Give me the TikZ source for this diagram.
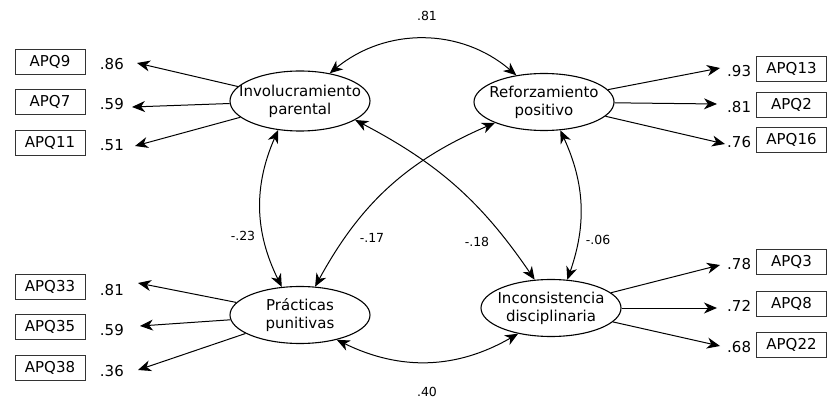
\documentclass[tikz,border=0pt]{standalone}
\usepackage{fontspec}
\setmainfont{DejaVu Sans}
\usetikzlibrary{arrows.meta,shapes.geometric}
\begin{document}
\begin{tikzpicture}[x=1pt,y=-1pt,font=\fontsize{15}{18}\selectfont,
    latent/.style={shape=ellipse,draw=black,line width=1.1pt,minimum width=140pt,minimum height=57pt,inner sep=0pt,inner xsep=-12pt,align=center},
    indic/.style={shape=rectangle,draw=black!80,line width=0.9pt,minimum width=70pt,minimum height=25pt,inner sep=0pt},
    load/.style={inner sep=0pt},
    coef/.style={inner sep=0pt,font=\fontsize{12.5}{14}\selectfont},
    loadarr/.style={draw=black,line width=1pt,-{Stealth[length=13pt,width=11pt,inset=4pt]}},
    cov/.style={draw=black,line width=1pt,{Stealth[length=13pt,width=11pt,inset=4pt]}-{Stealth[length=13pt,width=11pt,inset=4pt]}}]
    \useasboundingbox (0,0) rectangle (827,403);

    \node[latent,minimum height=60pt] (inv) at (300,101){Involucramiento\\parental};
    \node[latent] (ref) at (544,102){Reforzamiento\\positivo};
    \node[latent] (pun) at (300,315){Prácticas\\punitivas};
    \node[latent] (inc) at (551,308){Inconsistencia\\disciplinaria};

    \foreach \n/\y/\tx/\ty/\v in {9/62/137/63/.86, 7/102/132/107/.59, 11/143/135/146/.51}
        {\node[indic] (apq\n) at (50,\y){APQ\n};
        \node[load,anchor=east] (w\n) at (124,\y+2){\v};
        \coordinate (t\n) at (\tx,\ty);
        \draw[loadarr] (inv) to (t\n);}
    \foreach \n/\y/\tx/\ty/\v in {33/287/138/283/.81, 35/327/140/326/.59, 38/368/138/370/.36}
        {\node[indic] (apq\n) at (50,\y){APQ\n};
        \node[load,anchor=east] (w\n) at (124,\y+3){\v};
        \coordinate (t\n) at (\tx,\ty);
        \draw[loadarr] (pun) to (t\n);}
    \foreach \n/\y/\tx/\ty/\v in {13/69/720/68/.93, 2/105/717/104/.81, 16/140/725/144/.76}
        {\node[indic] (apq\n) at (791.5,\y){APQ\n};
        \node[load,anchor=west] (w\n) at (727,\y+2){\v};
        \coordinate (t\n) at (\tx,\ty);
        \draw[loadarr] (ref) to (t\n);}
    \foreach \n/\y/\tx/\ty/\v in {3/262/720/265/.78, 8/304/717/308/.72, 22/345/720/346/.68}
        {\node[indic] (apq\n) at (791.5,\y){APQ\n};
        \node[load,anchor=west] (w\n) at (727,\y+2){\v};
        \coordinate (t\n) at (\tx,\ty);
        \draw[loadarr] (inc) to (t\n);}

    \draw[cov] (inv.43) to[bend left=40] (ref.136);
    \draw[cov] (inv.233) to[bend right=25] (pun.123);
    \draw[cov] (ref.-60) to[bend left=22] (inc.60);
    \draw[cov] (pun.62) to[bend left=19] (ref.203);
    \draw[cov] (inv.-19) to[bend left=14] (inc.120);
    \draw[cov] (pun.-34) to[bend right=28] (inc.-142);

    \node[coef] (c1) at (427,16){.81};
    \node[coef] (c2) at (243,236){-.23};
    \node[coef] (c3) at (372,238){-.17};
    \node[coef] (c4) at (477,242){-.18};
    \node[coef] (c5) at (598,240){-.06};
    \node[coef] (c6) at (427,392){.40};
\end{tikzpicture}
\end{document}
